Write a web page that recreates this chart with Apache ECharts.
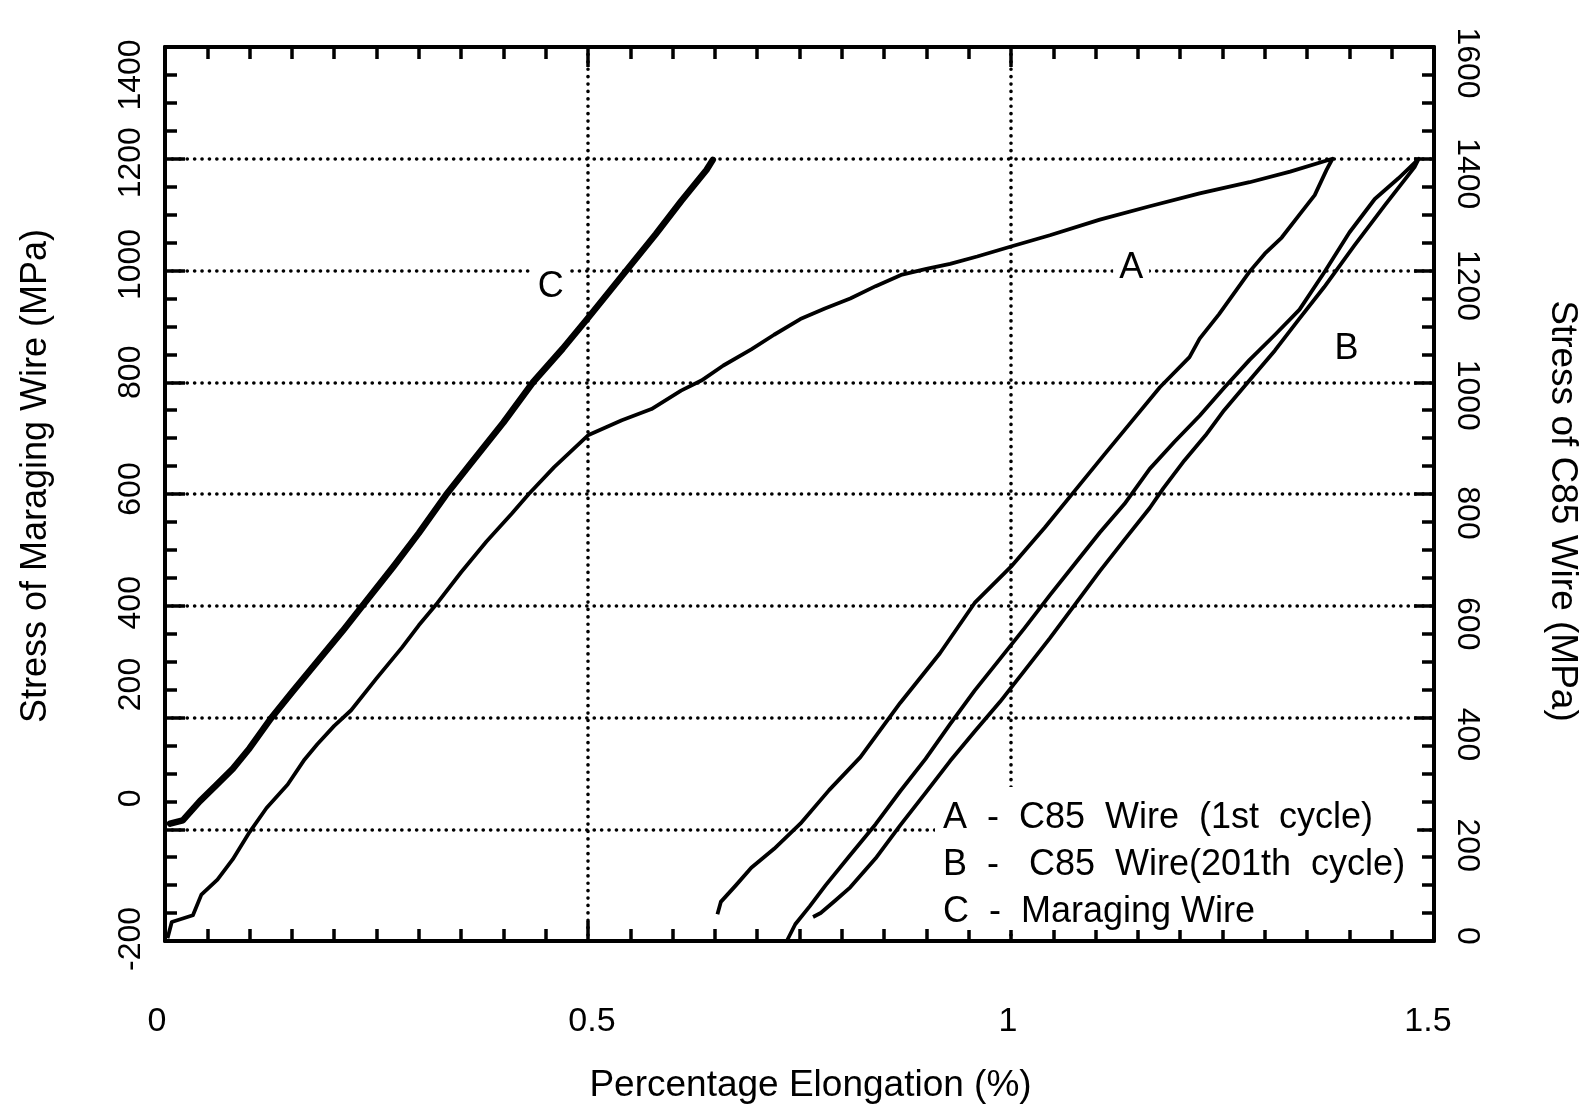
<!DOCTYPE html>
<html>
<head>
<meta charset="utf-8">
<script src="https://cdn.jsdelivr.net/npm/echarts/dist/echarts.min.js"></script>
<style>
html,body{margin:0;padding:0;background:#fff;}
#chart{width:1587px;height:1109px;}
</style>
</head>
<body>
<div id="chart"></div>
<script>
// ---------------- data ----------------
const xTickValues = [0, 0.5, 1, 1.5];
const leftTickValues = [-200, 0, 200, 400, 600, 800, 1000, 1200, 1400];
const rightTickValues = [0, 200, 400, 600, 800, 1000, 1200, 1400, 1600];

const legendLabels = [
  'A  -  C85  Wire  (1st  cycle)',
  'B  -   C85  Wire(201th  cycle)',
  'C  -  Maraging Wire'
];

// C - Maraging wire (left axis), [elongation %, MPa]
const cMaraging = [
  [0.006, 10], [0.021, 16], [0.041, 50], [0.06, 78], [0.08, 108], [0.1, 145],
  [0.125, 198], [0.15, 245], [0.18, 300], [0.21, 355], [0.236, 405], [0.27, 470],
  [0.3, 530], [0.332, 598], [0.36, 652], [0.4, 728], [0.435, 800], [0.47, 860],
  [0.5, 915], [0.547, 1003], [0.58, 1065], [0.61, 1124], [0.64, 1180], [0.6475, 1198]
];

// A - C85 wire 1st cycle (right axis)
const aLoading = [
  [0.003, 5], [0.008, 34], [0.033, 46], [0.043, 83], [0.062, 110], [0.08, 146],
  [0.1, 195], [0.12, 238], [0.145, 280], [0.165, 325], [0.18, 352], [0.2, 385],
  [0.22, 413], [0.25, 470], [0.28, 525], [0.3, 565], [0.322, 605], [0.35, 660],
  [0.38, 715], [0.41, 765], [0.43, 800], [0.46, 848], [0.5, 905], [0.54, 932],
  [0.575, 952], [0.61, 985], [0.634, 1003], [0.66, 1030], [0.693, 1059], [0.72, 1085],
  [0.751, 1113], [0.78, 1132], [0.81, 1150], [0.84, 1172], [0.87, 1192], [0.9, 1203],
  [0.928, 1212], [0.96, 1225], [1.0, 1243], [1.046, 1263], [1.105, 1291], [1.164, 1315],
  [1.223, 1338], [1.282, 1358], [1.33, 1377], [1.38, 1400]
];
const aUnloading = [
  [1.373, 1380], [1.359, 1335], [1.341, 1300], [1.32, 1259], [1.3, 1230], [1.282, 1198],
  [1.246, 1122], [1.223, 1078], [1.211, 1045], [1.176, 991], [1.14, 925], [1.11, 870],
  [1.076, 807], [1.04, 740], [1.0, 670], [0.957, 605], [0.916, 515], [0.869, 426],
  [0.822, 329], [0.785, 270], [0.751, 210], [0.72, 165], [0.693, 131], [0.675, 100],
  [0.657, 70], [0.653, 48]
];

// B - C85 wire 201th cycle (right axis)
const bLoading = [
  [0.735, 0], [0.745, 30], [0.762, 62], [0.781, 100], [0.81, 154], [0.84, 209],
  [0.869, 268], [0.899, 326], [0.928, 388], [0.957, 448], [0.987, 505], [1.016, 560],
  [1.046, 619], [1.076, 676], [1.105, 731], [1.134, 782], [1.164, 845], [1.193, 893],
  [1.223, 940], [1.252, 990], [1.282, 1040], [1.312, 1085], [1.341, 1130], [1.37, 1196],
  [1.4, 1268], [1.43, 1328], [1.458, 1365], [1.482, 1400]
];
const bUnloading = [
  [1.477, 1385], [1.442, 1317], [1.406, 1245], [1.37, 1170], [1.34, 1112], [1.312, 1057],
  [1.28, 1000], [1.252, 950], [1.23, 905], [1.205, 860], [1.18, 810], [1.164, 775],
  [1.134, 718], [1.105, 662], [1.076, 603], [1.046, 542], [1.016, 484], [0.987, 428],
  [0.957, 375], [0.928, 322], [0.899, 265], [0.869, 207], [0.84, 148], [0.81, 96],
  [0.792, 72], [0.775, 50], [0.766, 43]
];

// ---------------- chart ----------------
const FONT = '"Liberation Sans", Arial, Helvetica, sans-serif';

// per-label nudges (screen px; + = down for y axes, + = right for x axis)
function richLabels(values, nudge, sign, fontSize) {
  const rich = {};
  const keyOf = {};
  values.forEach((v, i) => {
    const d = (nudge[String(v)] || 0) * sign;
    const pad = d >= 0 ? [0, 0, 0, 2 * d] : [0, -2 * d, 0, 0];
    rich['k' + i] = { fontSize: fontSize, fontFamily: FONT, color: '#000', padding: pad };
    keyOf[String(v)] = 'k' + i;
  });
  return {
    rich: rich,
    formatter: function (v) {
      const k = keyOf[String(v)];
      return k ? '{' + k + '|' + v + '}' : String(v);
    }
  };
}

const leftLab = richLabels(leftTickValues,
  { '1400': 28, '1200': 4, '1000': -6, '800': -10, '600': -5, '400': -3, '200': -33, '0': -31, '-200': -2 },
  -1, 32);
const rightLab = richLabels(rightTickValues,
  { '1600': 16, '1400': 15, '1200': 15, '1000': 13, '800': 19, '600': 18, '400': 17, '200': 16, '0': -5 },
  1, 32);
const xLab = richLabels(xTickValues, { '0': -8, '0.5': 4, '1': -3, '1.5': -6 }, 1, 34);

const axisLineStyle = { color: '#000', width: 4 };
const tickStyle = { color: '#000', width: 3.5 };
const dotted = { color: '#000', width: 3.6, type: [0.1, 7.3], cap: 'round' };

const chart = echarts.init(document.getElementById('chart'), null, { renderer: 'canvas' });

const labelBase = { show: true, position: 'inside', color: '#000', fontSize: 36, fontFamily: FONT };

chart.setOption({
  animation: false,
  backgroundColor: '#fff',
  textStyle: { fontFamily: FONT, color: '#000' },
  grid: { left: 165, right: 153, top: 47, bottom: 168, containLabel: false, outerBoundsMode: 'none' },
  legend: {
    orient: 'vertical',
    left: 935, top: 787,
    padding: [13, 12, 0, 3],
    backgroundColor: '#fff',
    itemGap: 11, itemWidth: 0, itemHeight: 0,
    icon: 'rect',
    selectedMode: false,
    itemStyle: { opacity: 0 },
    lineStyle: { opacity: 0 },
    textStyle: { fontSize: 36, fontFamily: FONT, color: '#000', lineHeight: 34 },
    data: legendLabels
  },
  xAxis: [
    {
      type: 'value', position: 'bottom', min: 0, max: 1.5, interval: 0.5,
      name: 'Percentage Elongation (%)', nameLocation: 'middle', nameGap: 126,
      nameMoveOverlap: false,
      nameTextStyle: { fontSize: 37, fontFamily: FONT, color: '#000', padding: [0, 0, 0, 22] },
      axisLine: { show: true, onZero: false, lineStyle: axisLineStyle },
      axisTick: { show: true, inside: true, length: 20, lineStyle: tickStyle },
      minorTick: { show: true, splitNumber: 10, length: 12, lineStyle: tickStyle },
      axisLabel: { show: true, margin: 64, fontSize: 34, fontFamily: FONT, color: '#000',
        showMinLabel: true, showMaxLabel: true, hideOverlap: false,
        formatter: xLab.formatter, rich: xLab.rich },
      splitLine: { show: true, lineStyle: dotted },
      minorSplitLine: { show: false }
    },
    {
      type: 'value', position: 'top', min: 0, max: 1.5, interval: 0.5,
      axisLine: { show: true, onZero: false, lineStyle: axisLineStyle },
      axisTick: { show: true, inside: true, length: 20, lineStyle: tickStyle },
      minorTick: { show: true, splitNumber: 10, length: 12, lineStyle: tickStyle },
      axisLabel: { show: false },
      splitLine: { show: false }
    }
  ],
  yAxis: [
    {
      type: 'value', position: 'left', min: -200, max: 1400, interval: 200,
      name: 'Stress of Maraging Wire (MPa)', nameLocation: 'middle', nameGap: 111, nameRotate: 90,
      nameMoveOverlap: false,
      nameTextStyle: { fontSize: 36, fontFamily: FONT, color: '#000', padding: [0, 0, 0, 36] },
      axisLine: { show: true, onZero: false, lineStyle: axisLineStyle },
      axisTick: { show: true, inside: true, length: 20, lineStyle: tickStyle },
      minorTick: { show: true, splitNumber: 4, length: 12, lineStyle: tickStyle },
      axisLabel: { show: true, rotate: 90, margin: 18, fontSize: 32, fontFamily: FONT, color: '#000',
        showMinLabel: true, showMaxLabel: true, hideOverlap: false,
        formatter: leftLab.formatter, rich: leftLab.rich },
      splitLine: { show: true, lineStyle: dotted }
    },
    {
      type: 'value', position: 'right', min: 0, max: 1600, interval: 200,
      name: 'Stress of C85 Wire (MPa)', nameLocation: 'middle', nameGap: 110, nameRotate: -90,
      nameMoveOverlap: false,
      nameTextStyle: { fontSize: 37, fontFamily: FONT, color: '#000', padding: [0, 0, 0, 34] },
      axisLine: { show: true, onZero: false, lineStyle: axisLineStyle },
      axisTick: { show: true, inside: true, length: 20, lineStyle: tickStyle },
      minorTick: { show: true, splitNumber: 4, length: 12, lineStyle: tickStyle },
      axisLabel: { show: true, rotate: -90, margin: 17, fontSize: 32, fontFamily: FONT, color: '#000',
        showMinLabel: true, showMaxLabel: true, hideOverlap: false,
        formatter: rightLab.formatter, rich: rightLab.rich },
      splitLine: { show: false }
    }
  ],
  series: [
    {
      name: legendLabels[0], type: 'line', xAxisIndex: 0, yAxisIndex: 1,
      data: aLoading.concat(aUnloading),
      symbol: 'none', showSymbol: false, smooth: false,
      lineStyle: { color: '#000', width: 3.8, join: 'round' }, itemStyle: { color: '#000' },
      z: 3, silent: true,
      markPoint: {
        symbol: 'circle', symbolSize: 1, itemStyle: { color: 'rgba(0,0,0,0)' }, silent: true,
        label: Object.assign({}, labelBase, { formatter: 'A', backgroundColor: '#fff', padding: [2, 6, 14, 6] }),
        data: [{ coord: [1.142, 1205] }]
      }
    },
    {
      name: legendLabels[1], type: 'line', xAxisIndex: 0, yAxisIndex: 1,
      data: bLoading.concat(bUnloading),
      symbol: 'none', showSymbol: false, smooth: false,
      lineStyle: { color: '#000', width: 3.8, join: 'round' }, itemStyle: { color: '#000' },
      z: 3, silent: true,
      markPoint: {
        symbol: 'circle', symbolSize: 1, itemStyle: { color: 'rgba(0,0,0,0)' }, silent: true,
        label: Object.assign({}, labelBase, { formatter: 'B' }),
        data: [{ coord: [1.3966, 1060] }]
      }
    },
    {
      name: legendLabels[2], type: 'line', xAxisIndex: 0, yAxisIndex: 0,
      data: cMaraging,
      symbol: 'none', showSymbol: false, smooth: false,
      lineStyle: { color: '#000', width: 6.5, join: 'round', cap: 'round' }, itemStyle: { color: '#000' },
      z: 3, silent: true,
      markPoint: {
        symbol: 'circle', symbolSize: 1, itemStyle: { color: 'rgba(0,0,0,0)' }, silent: true,
        label: Object.assign({}, labelBase, { formatter: 'C', backgroundColor: '#fff', padding: [14, 6, 2, 6] }),
        data: [{ coord: [0.456, 970] }]
      }
    }
  ]
});
</script>
</body>
</html>
